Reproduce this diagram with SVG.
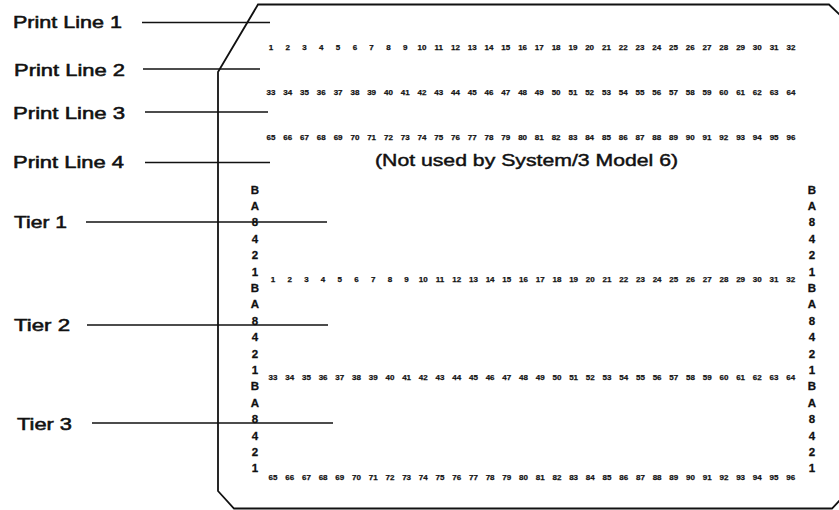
<svg xmlns="http://www.w3.org/2000/svg" width="839" height="510" viewBox="0 0 839 510">
  <style>
    .lbl { font-family: "Liberation Sans", Arial, sans-serif; font-size: 17px; fill: #111; stroke: #111; stroke-width: 0.55; }
    .note { font-family: "Liberation Sans", Arial, sans-serif; font-size: 17px; fill: #111; stroke: #111; stroke-width: 0.45; }
    .n { font-family: "Liberation Sans", Arial, sans-serif; font-weight: bold; font-size: 8px; fill: #111; stroke: #111; stroke-width: 0.25; text-anchor: middle; }
    .z { font-family: "Liberation Sans", Arial, sans-serif; font-weight: bold; font-size: 11.5px; fill: #111; stroke: #111; stroke-width: 0.3; text-anchor: middle; }
    .card { fill: none; stroke: #111; stroke-width: 1.8; stroke-linejoin: miter; }
    .lead { stroke: #111; stroke-width: 1.6; fill: none; }
  </style>
  <rect width="839" height="510" fill="#fff"/>

  <!-- card outline with clipped corners -->
  <g id="card">
    <path class="card" d="M 840 15 L 829 4.5 L 258 4.5 L 218 72 L 218 491 L 234 508.5 L 832 508.5 L 840 500"/>
  </g>

  <!-- print line digits -->
  <g id="print-rows">
    <text class="n" y="50"><tspan x="271">1</tspan><tspan x="287.8">2</tspan><tspan x="304.5">3</tspan><tspan x="321.3">4</tspan><tspan x="338.1">5</tspan><tspan x="354.9">6</tspan><tspan x="371.6">7</tspan><tspan x="388.4">8</tspan><tspan x="405.2">9</tspan><tspan x="421.9">10</tspan><tspan x="438.7">11</tspan><tspan x="455.5">12</tspan><tspan x="472.2">13</tspan><tspan x="489">14</tspan><tspan x="505.8">15</tspan><tspan x="522.6">16</tspan><tspan x="539.3">17</tspan><tspan x="556.1">18</tspan><tspan x="572.9">19</tspan><tspan x="589.6">20</tspan><tspan x="606.4">21</tspan><tspan x="623.2">22</tspan><tspan x="639.9">23</tspan><tspan x="656.7">24</tspan><tspan x="673.5">25</tspan><tspan x="690.3">26</tspan><tspan x="707">27</tspan><tspan x="723.8">28</tspan><tspan x="740.6">29</tspan><tspan x="757.3">30</tspan><tspan x="774.1">31</tspan><tspan x="790.9">32</tspan></text>
    <text class="n" y="95"><tspan x="271">33</tspan><tspan x="287.8">34</tspan><tspan x="304.5">35</tspan><tspan x="321.3">36</tspan><tspan x="338.1">37</tspan><tspan x="354.9">38</tspan><tspan x="371.6">39</tspan><tspan x="388.4">40</tspan><tspan x="405.2">41</tspan><tspan x="421.9">42</tspan><tspan x="438.7">43</tspan><tspan x="455.5">44</tspan><tspan x="472.2">45</tspan><tspan x="489">46</tspan><tspan x="505.8">47</tspan><tspan x="522.6">48</tspan><tspan x="539.3">49</tspan><tspan x="556.1">50</tspan><tspan x="572.9">51</tspan><tspan x="589.6">52</tspan><tspan x="606.4">53</tspan><tspan x="623.2">54</tspan><tspan x="639.9">55</tspan><tspan x="656.7">56</tspan><tspan x="673.5">57</tspan><tspan x="690.3">58</tspan><tspan x="707">59</tspan><tspan x="723.8">60</tspan><tspan x="740.6">61</tspan><tspan x="757.3">62</tspan><tspan x="774.1">63</tspan><tspan x="790.9">64</tspan></text>
    <text class="n" y="140"><tspan x="271">65</tspan><tspan x="287.8">66</tspan><tspan x="304.5">67</tspan><tspan x="321.3">68</tspan><tspan x="338.1">69</tspan><tspan x="354.9">70</tspan><tspan x="371.6">71</tspan><tspan x="388.4">72</tspan><tspan x="405.2">73</tspan><tspan x="421.9">74</tspan><tspan x="438.7">75</tspan><tspan x="455.5">76</tspan><tspan x="472.2">77</tspan><tspan x="489">78</tspan><tspan x="505.8">79</tspan><tspan x="522.6">80</tspan><tspan x="539.3">81</tspan><tspan x="556.1">82</tspan><tspan x="572.9">83</tspan><tspan x="589.6">84</tspan><tspan x="606.4">85</tspan><tspan x="623.2">86</tspan><tspan x="639.9">87</tspan><tspan x="656.7">88</tspan><tspan x="673.5">89</tspan><tspan x="690.3">90</tspan><tspan x="707">91</tspan><tspan x="723.8">92</tspan><tspan x="740.6">93</tspan><tspan x="757.3">94</tspan><tspan x="774.1">95</tspan><tspan x="790.9">96</tspan></text>
    <text class="note" x="375" y="166" textLength="303" lengthAdjust="spacingAndGlyphs">(Not used by System/3 Model 6)</text>
  </g>

  <!-- tier digits -->
  <g id="tier-rows">
    <text class="n" y="282"><tspan x="273">1</tspan><tspan x="289.7">2</tspan><tspan x="306.4">3</tspan><tspan x="323.1">4</tspan><tspan x="339.8">5</tspan><tspan x="356.5">6</tspan><tspan x="373.2">7</tspan><tspan x="389.9">8</tspan><tspan x="406.6">9</tspan><tspan x="423.3">10</tspan><tspan x="440">11</tspan><tspan x="456.7">12</tspan><tspan x="473.4">13</tspan><tspan x="490.1">14</tspan><tspan x="506.8">15</tspan><tspan x="523.5">16</tspan><tspan x="540.2">17</tspan><tspan x="556.9">18</tspan><tspan x="573.6">19</tspan><tspan x="590.3">20</tspan><tspan x="607">21</tspan><tspan x="623.7">22</tspan><tspan x="640.4">23</tspan><tspan x="657.1">24</tspan><tspan x="673.8">25</tspan><tspan x="690.5">26</tspan><tspan x="707.2">27</tspan><tspan x="723.9">28</tspan><tspan x="740.6">29</tspan><tspan x="757.3">30</tspan><tspan x="774">31</tspan><tspan x="790.7">32</tspan></text>
    <text class="n" y="380"><tspan x="273">33</tspan><tspan x="289.7">34</tspan><tspan x="306.4">35</tspan><tspan x="323.1">36</tspan><tspan x="339.8">37</tspan><tspan x="356.5">38</tspan><tspan x="373.2">39</tspan><tspan x="389.9">40</tspan><tspan x="406.6">41</tspan><tspan x="423.3">42</tspan><tspan x="440">43</tspan><tspan x="456.7">44</tspan><tspan x="473.4">45</tspan><tspan x="490.1">46</tspan><tspan x="506.8">47</tspan><tspan x="523.5">48</tspan><tspan x="540.2">49</tspan><tspan x="556.9">50</tspan><tspan x="573.6">51</tspan><tspan x="590.3">52</tspan><tspan x="607">53</tspan><tspan x="623.7">54</tspan><tspan x="640.4">55</tspan><tspan x="657.1">56</tspan><tspan x="673.8">57</tspan><tspan x="690.5">58</tspan><tspan x="707.2">59</tspan><tspan x="723.9">60</tspan><tspan x="740.6">61</tspan><tspan x="757.3">62</tspan><tspan x="774">63</tspan><tspan x="790.7">64</tspan></text>
    <text class="n" y="480"><tspan x="273">65</tspan><tspan x="289.7">66</tspan><tspan x="306.4">67</tspan><tspan x="323.1">68</tspan><tspan x="339.8">69</tspan><tspan x="356.5">70</tspan><tspan x="373.2">71</tspan><tspan x="389.9">72</tspan><tspan x="406.6">73</tspan><tspan x="423.3">74</tspan><tspan x="440">75</tspan><tspan x="456.7">76</tspan><tspan x="473.4">77</tspan><tspan x="490.1">78</tspan><tspan x="506.8">79</tspan><tspan x="523.5">80</tspan><tspan x="540.2">81</tspan><tspan x="556.9">82</tspan><tspan x="573.6">83</tspan><tspan x="590.3">84</tspan><tspan x="607">85</tspan><tspan x="623.7">86</tspan><tspan x="640.4">87</tspan><tspan x="657.1">88</tspan><tspan x="673.8">89</tspan><tspan x="690.5">90</tspan><tspan x="707.2">91</tspan><tspan x="723.9">92</tspan><tspan x="740.6">93</tspan><tspan x="757.3">94</tspan><tspan x="774">95</tspan><tspan x="790.7">96</tspan></text>
  </g>

  <!-- zone / digit punch row indicators, left and right edges -->
  <g id="zone-left">
    <text class="z" x="255" y="193.5">B</text><text class="z" x="255" y="209.9">A</text><text class="z" x="255" y="226.3">8</text><text class="z" x="255" y="242.7">4</text><text class="z" x="255" y="259.1">2</text><text class="z" x="255" y="275.5">1</text>
    <text class="z" x="255" y="291.9">B</text><text class="z" x="255" y="308.3">A</text><text class="z" x="255" y="324.7">8</text><text class="z" x="255" y="341.1">4</text><text class="z" x="255" y="357.5">2</text><text class="z" x="255" y="373.9">1</text>
    <text class="z" x="255" y="390.3">B</text><text class="z" x="255" y="406.7">A</text><text class="z" x="255" y="423.1">8</text><text class="z" x="255" y="439.5">4</text><text class="z" x="255" y="455.9">2</text><text class="z" x="255" y="472.3">1</text>
  </g>
  <g id="zone-right">
    <text class="z" x="812" y="193.5">B</text><text class="z" x="812" y="209.9">A</text><text class="z" x="812" y="226.3">8</text><text class="z" x="812" y="242.7">4</text><text class="z" x="812" y="259.1">2</text><text class="z" x="812" y="275.5">1</text>
    <text class="z" x="812" y="291.9">B</text><text class="z" x="812" y="308.3">A</text><text class="z" x="812" y="324.7">8</text><text class="z" x="812" y="341.1">4</text><text class="z" x="812" y="357.5">2</text><text class="z" x="812" y="373.9">1</text>
    <text class="z" x="812" y="390.3">B</text><text class="z" x="812" y="406.7">A</text><text class="z" x="812" y="423.1">8</text><text class="z" x="812" y="439.5">4</text><text class="z" x="812" y="455.9">2</text><text class="z" x="812" y="472.3">1</text>
  </g>

  <!-- labels -->
  <g id="print-line-1"><text class="lbl" x="13" y="28" textLength="109" lengthAdjust="spacingAndGlyphs">Print Line 1</text></g>
  <g id="print-line-2"><text class="lbl" x="14" y="76" textLength="111" lengthAdjust="spacingAndGlyphs">Print Line 2</text></g>
  <g id="print-line-3"><text class="lbl" x="13" y="119" textLength="112" lengthAdjust="spacingAndGlyphs">Print Line 3</text></g>
  <g id="print-line-4"><text class="lbl" x="13" y="168" textLength="111" lengthAdjust="spacingAndGlyphs">Print Line 4</text></g>
  <g id="tier-1"><text class="lbl" x="14" y="228" textLength="53" lengthAdjust="spacingAndGlyphs">Tier 1</text></g>
  <g id="tier-2"><text class="lbl" x="14" y="331" textLength="56" lengthAdjust="spacingAndGlyphs">Tier 2</text></g>
  <g id="tier-3"><text class="lbl" x="17" y="430" textLength="55" lengthAdjust="spacingAndGlyphs">Tier 3</text></g>

  <!-- leader lines -->
  <g id="connectors">
    <line class="lead" x1="142" y1="22.5" x2="270" y2="22.5"/>
    <line class="lead" x1="143" y1="69" x2="260" y2="69"/>
    <line class="lead" x1="145" y1="112" x2="268" y2="112"/>
    <line class="lead" x1="145" y1="162.5" x2="270" y2="162.5"/>
    <line class="lead" x1="86" y1="222" x2="327" y2="222"/>
    <line class="lead" x1="87" y1="325" x2="328" y2="325"/>
    <line class="lead" x1="92" y1="423" x2="333" y2="423"/>
  </g>
</svg>
